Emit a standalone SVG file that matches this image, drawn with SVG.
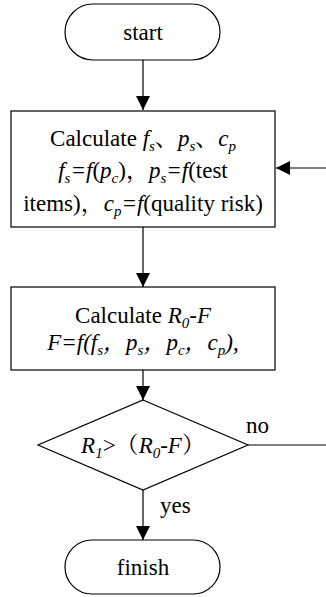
<svg xmlns="http://www.w3.org/2000/svg" width="326" height="597" viewBox="0 0 326 597">
<style>
.shape{fill:#fff;stroke:#000;stroke-width:1.2}
.line{fill:none;stroke:#000;stroke-width:1.2}
text{font-family:"Liberation Serif","Noto Serif CJK SC","Noto Sans CJK SC",serif;font-size:23px;fill:#000}
.c{text-anchor:middle}
.i{font-style:italic}
.sub{font-size:15px;baseline-shift:-5px;font-style:italic}
</style>
<defs>
<marker id="ah" markerWidth="14" markerHeight="14" viewBox="0 0 14 14" refX="14" refY="7" orient="auto" markerUnits="userSpaceOnUse">
<path d="M0,0 L14,7 L0,14 Z" fill="#000"/>
</marker>
</defs>
<g id="connectors">
<line class="line" x1="143" y1="60" x2="143" y2="110" marker-end="url(#ah)"/>
<line class="line" x1="326" y1="168" x2="276" y2="168" marker-end="url(#ah)"/>
<line class="line" x1="143" y1="227" x2="143" y2="287" marker-end="url(#ah)"/>
<line class="line" x1="143" y1="370" x2="143" y2="400" marker-end="url(#ah)"/>
<line class="line" x1="248" y1="445" x2="326" y2="445"/>
<text x="246" y="433">no</text>
<line class="line" x1="143" y1="490" x2="143" y2="540" marker-end="url(#ah)"/>
<text x="160" y="513">yes</text>
</g>
<g id="start">
<rect class="shape" x="65" y="4" width="155" height="56" rx="28" ry="28"/>
<text class="c" x="143" y="40">start</text>
</g>
<g id="calc1">
<rect class="shape" x="11" y="111" width="264" height="116"/>
<text class="c" x="143" y="146">Calculate <tspan class="i">f</tspan><tspan class="sub">s</tspan>、<tspan class="i">p</tspan><tspan class="sub">s</tspan>、<tspan class="i">c</tspan><tspan class="sub">p</tspan></text>
<text class="c" x="143" y="178"><tspan class="i">f</tspan><tspan class="sub">s</tspan><tspan class="i">=f</tspan>(<tspan class="i">p</tspan><tspan class="sub">c</tspan>)，<tspan class="i">p</tspan><tspan class="sub">s</tspan><tspan class="i">=f</tspan>(test</text>
<text class="c" x="143" y="211">items)，<tspan class="i">c</tspan><tspan class="sub">p</tspan><tspan class="i">=f</tspan>(quality risk)</text>
</g>
<g id="calc2">
<rect class="shape" x="11" y="287" width="264" height="83"/>
<text class="c" x="143" y="323">Calculate <tspan class="i">R</tspan><tspan class="sub">0</tspan><tspan class="i">-F</tspan></text>
<text class="c i" x="143" y="350">F=f(f<tspan class="sub">s</tspan>，p<tspan class="sub">s</tspan>，p<tspan class="sub">c</tspan>，c<tspan class="sub">p</tspan>),</text>
</g>
<g id="decision">
<polygon class="shape" points="143,400 248,445 143,490 38,445"/>
<text class="c" x="143" y="453"><tspan class="i">R</tspan><tspan class="sub">1</tspan>&gt;（<tspan class="i">R</tspan><tspan class="sub">0</tspan><tspan class="i">-F</tspan>）</text>
</g>
<g id="finish">
<rect class="shape" x="65" y="540" width="155" height="54" rx="27" ry="27"/>
<text class="c" x="143" y="575">finish</text>
</g>
</svg>
